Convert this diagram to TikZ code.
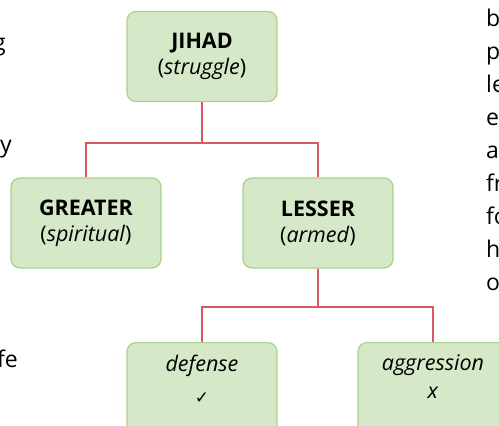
\documentclass[tikz,border=0pt]{standalone}
\usepackage{fontspec}
\setmainfont{Open Sans}
\newfontfamily\symfont{DejaVu Sans}
\definecolor{boxfill}{HTML}{D5E8C8}
\definecolor{boxline}{HTML}{A9D18E}
\definecolor{treeline}{HTML}{D9595F}
\tikzset{
  termbox/.style={draw=boxline, fill=boxfill, line width=1.2pt, rounded corners=9pt,
    minimum width=150pt, minimum height=90pt, align=center,
    font=\fontsize{21.5}{26}\selectfont},
  lowbox/.style={anchor=north, minimum height=0pt, inner ysep=12pt, text depth=70pt},
  branch/.style={draw=treeline, line width=1.3pt},
  pagetext/.style={font=\fontsize{23}{27}\selectfont, inner sep=0pt}
}
\begin{document}
\begin{tikzpicture}[x=1pt,y=-1pt]
    \useasboundingbox (0,0) rectangle (499,426);
    \clip (0,0) rectangle (499,426);
    % cut-off words of the page around the chart
    \node[pagetext, anchor=base east] (lg) at (6,50) {g};
    \node[pagetext, anchor=base east] (ly) at (12,152) {y};
    \node[pagetext, anchor=base east] (lfe) at (18,367) {fe};
    \foreach \w [count=\i from 0] in {b, p, le, e, a, fr, fo, h, o}
    { \node[pagetext, anchor=base west] (r\i) at (486, 26+33*\i) {\w}; }
    % the chart
    \node[termbox] (jihad) at (202,56.5) {\textbf{JIHAD}\\(\textit{struggle})};
    \node[termbox] (greater) at (86,223) {\textbf{GREATER}\\(\textit{spiritual})};
    \node[termbox] (lesser) at (318,223) {\textbf{LESSER}\\(\textit{armed})};
    \node[termbox, lowbox] (defense) at (202,342) {\textit{defense}\\[6pt]{\symfont\fontsize{17}{20}\selectfont ✓}};
    \node[termbox, lowbox] (aggression) at (433,342) {\textit{aggression}\\[2pt]\textit{x}};
    \coordinate (fork1) at (202,143);
    \coordinate (fork2) at (318,307);
    \draw[branch] (jihad.south) -- (fork1);
    \draw[branch] (fork1) -| (greater.north);
    \draw[branch] (fork1) -| (lesser.north);
    \draw[branch] (lesser.south) -- (fork2);
    \draw[branch] (fork2) -| (defense.north);
    \draw[branch] (fork2) -| (aggression.north);
\end{tikzpicture}
\end{document}
